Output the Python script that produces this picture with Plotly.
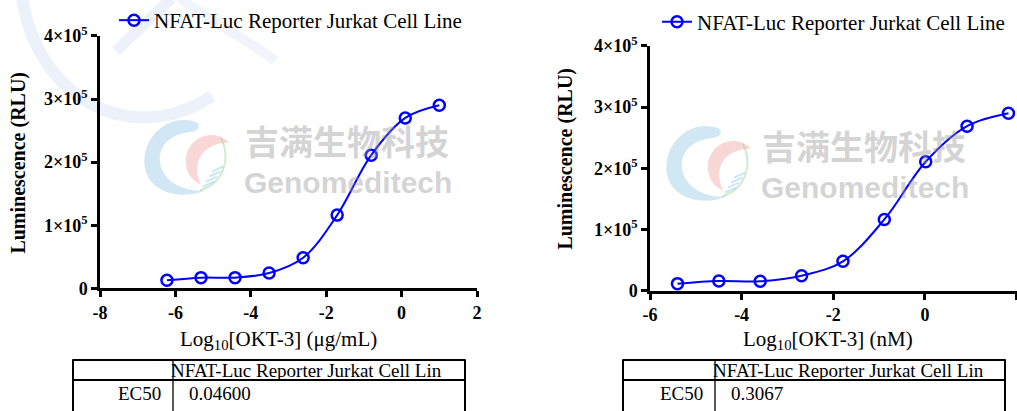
import plotly.graph_objects as go

W, H = 1017, 411
OX, OY = 0, 0
FW, FH = W - OX, H - OY

# ---------------- data ----------------
series_name = "NFAT-Luc Reporter Jurkat Cell Line"
log_conc_ugml = [-6.224, -5.321, -4.418, -3.515, -2.612, -1.709, -0.806, 0.097, 1.000]
rlu_ugml = [12600, 16900, 16900, 24200, 48500, 116000, 211000, 270000, 290000]
log_conc_nm = [-5.400, -4.497, -3.594, -2.691, -1.788, -0.885, 0.018, 0.921, 1.824]
rlu_nm = [12000, 16300, 15800, 25000, 48400, 116800, 211000, 269000, 290000]

x_ticks_left = [-8, -6, -4, -2, 0, 2]
x_ticktext_left = ["-8", "-6", "-4", "-2", "0", "2"]
x_ticks_right = [-6, -4, -2, 0, 2]
x_ticktext_right = ["-6", "-4", "-2", "0", "2"]
y_tickvals = [0, 100000, 200000, 300000, 400000]
y_ticktext = ["0", "1×10<sup>5</sup>", "2×10<sup>5</sup>", "3×10<sup>5</sup>", "4×10<sup>5</sup>"]

x_title_left = "Log<sub>10</sub>[OKT-3] (μg/mL)"
x_title_right = "Log<sub>10</sub>[OKT-3] (nM)"
y_title = "Luminescence (RLU)"

table_header = "NFAT-Luc Reporter Jurkat Cell Lin"
table_row_label = "EC50"
ec50_left = "0.04600"
ec50_right = "0.3067"

# ---------------- helpers (screen px -> paper) ----------------
def px(x):
    return (x - OX) / FW

def py(y):
    return 1 - (y - OY) / FH

SERIF = "Times New Roman, Liberation Serif, serif"
BLUE = "#0000ff"

fig = go.Figure()

fig.add_trace(go.Scatter(
    x=log_conc_ugml, y=rlu_ugml, name=series_name, mode="lines+markers",
    line=dict(color=BLUE, width=2, shape="spline", smoothing=1.0),
    marker=dict(symbol="circle-open", size=11, color=BLUE, line=dict(width=2.5, color=BLUE)),
    xaxis="x", yaxis="y", legend="legend", cliponaxis=False,
))
fig.add_trace(go.Scatter(
    x=log_conc_nm, y=rlu_nm, name=series_name, mode="lines+markers",
    line=dict(color=BLUE, width=2, shape="spline", smoothing=1.0),
    marker=dict(symbol="circle-open", size=11, color=BLUE, line=dict(width=2.5, color=BLUE)),
    xaxis="x2", yaxis="y2", legend="legend2", cliponaxis=False,
))

axis_common = dict(
    showgrid=False, zeroline=False, showline=True, linecolor="black", linewidth=2.5,
    ticks="outside", ticklen=6, tickwidth=2.5, tickcolor="black",
    tickfont=dict(family=SERIF, size=18, color="black", weight="bold"),
    automargin=False,
)

fig.update_layout(
    width=FW, height=FH,
    margin=dict(l=0, r=0, t=0, b=0, pad=0),
    paper_bgcolor="white", plot_bgcolor="rgba(0,0,0,0)",
    xaxis=dict(domain=[px(100), px(477)], range=[-8, 2], tickvals=x_ticks_left,
               ticktext=x_ticktext_left, anchor="y", **axis_common),
    yaxis=dict(domain=[py(288), py(35)], range=[0, 400000], tickvals=y_tickvals,
               ticktext=y_ticktext, anchor="x", **axis_common),
    xaxis2=dict(domain=[px(650), px(1016.5)], range=[-6, 2], tickvals=x_ticks_right,
                ticktext=x_ticktext_right, anchor="y2", **axis_common),
    yaxis2=dict(domain=[py(290.7), py(45)], range=[0, 400000], tickvals=y_tickvals,
                ticktext=y_ticktext, anchor="x2", **axis_common),
    legend=dict(x=px(114), y=py(20), xanchor="left", yanchor="middle",
                font=dict(family=SERIF, size=21, color="black"), bgcolor="rgba(0,0,0,0)"),
    legend2=dict(x=px(657), y=py(22), xanchor="left", yanchor="middle",
                 font=dict(family=SERIF, size=21, color="black"), bgcolor="rgba(0,0,0,0)"),
    showlegend=True,
)

annotations = []
# axis titles
annotations.append(dict(text=x_title_left, x=px(278), y=py(340), xref="paper", yref="paper",
                        showarrow=False, xanchor="center", yanchor="middle",
                        font=dict(family=SERIF, size=21, color="black")))
annotations.append(dict(text=x_title_right, x=px(828), y=py(340), xref="paper", yref="paper",
                        showarrow=False, xanchor="center", yanchor="middle",
                        font=dict(family=SERIF, size=21, color="black")))
annotations.append(dict(text=y_title, x=px(19), y=py(162), xref="paper", yref="paper",
                        showarrow=False, xanchor="center", yanchor="middle", textangle=-90,
                        font=dict(family=SERIF, size=20, color="black", weight="bold")))
annotations.append(dict(text=y_title, x=px(566), y=py(158), xref="paper", yref="paper",
                        showarrow=False, xanchor="center", yanchor="middle", textangle=-90,
                        font=dict(family=SERIF, size=20, color="black", weight="bold")))

# watermark texts
WM = "rgba(150,150,150,0.42)"
for cx, cy in [(347, 140), (864, 145)]:
    annotations.append(dict(text="吉满生物科技", x=px(cx), y=py(cy), xref="paper", yref="paper",
                            showarrow=False, xanchor="center", yanchor="middle",
                            font=dict(family="Noto Sans CJK SC", size=34, color=WM, weight="bold")))
    annotations.append(dict(text="Genomeditech", x=px(cx + 1), y=py(cy + 42), xref="paper", yref="paper",
                            showarrow=False, xanchor="center", yanchor="middle",
                            font=dict(family="Liberation Sans", size=30, color=WM, weight="bold")))

# tables
for (x0, xd, x1, val) in [(73, 173, 465, ec50_left), (623, 715, 1005, ec50_right)]:
    annotations.append(dict(text=table_header, x=px(xd - 4), y=py(370), xref="paper", yref="paper",
                            showarrow=False, xanchor="left", yanchor="middle",
                            font=dict(family=SERIF, size=19, color="black")))
    annotations.append(dict(text=table_row_label, x=px(xd - 10), y=py(393), xref="paper", yref="paper",
                            showarrow=False, xanchor="right", yanchor="middle",
                            font=dict(family=SERIF, size=19, color="black")))
    annotations.append(dict(text=val, x=px(xd + 14), y=py(393), xref="paper", yref="paper",
                            showarrow=False, xanchor="left", yanchor="middle",
                            font=dict(family=SERIF, size=19, color="black")))

fig.update_layout(annotations=annotations)

shapes = []

def path(points_cmds, close=False):
    s = ""
    for cmd, pts in points_cmds:
        s += cmd + " " + " ".join(f"{px(a):.5f},{py(b):.5f}" for a, b in pts) + " "
    if close:
        s += "Z"
    return s.strip()

def add_path(cmds, color, width):
    shapes.append(dict(type="path", xref="paper", yref="paper", path=path(cmds),
                       line=dict(color=color, width=width), layer="below"))

def add_fill(cmds, color):
    shapes.append(dict(type="path", xref="paper", yref="paper", path=path(cmds, close=True),
                       fillcolor=color, line=dict(width=0), layer="below"))

# faint large watermark arcs (top-left)
add_path([("M", [(22, -5)]), ("C", [(35, 95), (130, 150), (212, 95)])], "rgba(200,214,240,0.35)", 12)
add_path([("M", [(116, 50)]), ("L", [(172, -3)])], "rgba(200,214,240,0.35)", 11)
add_path([("M", [(180, -3)]), ("C", [(210, 20), (250, 40), (275, 60)])], "rgba(200,214,240,0.25)", 10)

# logos
for dx, dy in [(0, 0), (522, 6)]:
    def o(p):
        return (p[0] + dx, p[1] + dy)
    add_fill([("M", [o((195, 121))]),
              ("C", [o((165, 112)), o((140, 140)), o((145, 168))]),
              ("C", [o((150, 192)), o((180, 200)), o((205, 190))]),
              ("C", [o((185, 192)), o((163, 182)), o((160, 162))]),
              ("C", [o((158, 145)), o((170, 133)), o((192, 131))]),
              ("C", [o((200, 130)), o((201, 122)), o((195, 121))])],
             "rgba(140,195,225,0.40)")
    add_fill([("M", [o((229, 142))]),
              ("C", [o((215, 127)), o((188, 135)), o((186, 158))]),
              ("C", [o((185, 172)), o((192, 180)), o((201, 184))]),
              ("C", [o((195, 172)), o((196, 158)), o((205, 150))]),
              ("C", [o((212, 144)), o((220, 142)), o((229, 142))])],
             "rgba(240,140,140,0.35)")
    add_path([("M", [o((221, 137))]),
              ("C", [o((232, 160)), o((222, 183)), o((200, 190))])],
             "rgba(150,210,150,0.45)", 2)
    for k in range(4):
        add_path([("M", [o((203 + k * 3, 186 - k * 5))]), ("L", [o((214 + k * 3, 181 - k * 5))])],
                 "rgba(140,200,230,0.45)", 2)

# table lines
for (x0, xd, x1) in [(73, 173, 465), (623, 715, 1005)]:
    shapes.append(dict(type="line", xref="paper", yref="paper", x0=px(x0), x1=px(x1),
                       y0=py(360), y1=py(360), line=dict(color="black", width=2)))
    shapes.append(dict(type="line", xref="paper", yref="paper", x0=px(x0), x1=px(x1),
                       y0=py(380), y1=py(380), line=dict(color="black", width=2)))
    shapes.append(dict(type="line", xref="paper", yref="paper", x0=px(x0), x1=px(x0),
                       y0=py(359), y1=py(415), line=dict(color="black", width=2)))
    shapes.append(dict(type="line", xref="paper", yref="paper", x0=px(x1), x1=px(x1),
                       y0=py(359), y1=py(415), line=dict(color="black", width=2)))
    shapes.append(dict(type="line", xref="paper", yref="paper", x0=px(xd), x1=px(xd),
                       y0=py(360), y1=py(415), line=dict(color="black", width=1.3)))

fig.update_layout(shapes=shapes)

fig.write_html("out.html", config={"displayModeBar": False},
               post_script="document.body.style.margin='0';document.body.style.overflow='hidden';")
